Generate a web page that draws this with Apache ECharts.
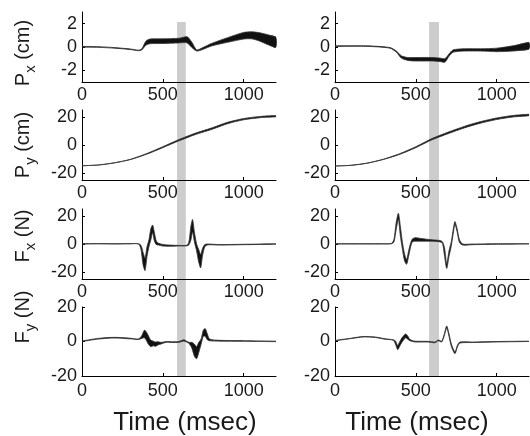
<!DOCTYPE html>
<html>
<head>
<meta charset="utf-8">
<script src="https://cdn.jsdelivr.net/npm/echarts@6/dist/echarts.min.js"></script>
<style>
  html, body { margin: 0; padding: 0; background: #fff; }
  #main { width: 530px; height: 436px; }
</style>
</head>
<body>
<div id="main"></div>
<script>
// tick labels
const xTicks = [0, 500, 1000];
const pxTicks = [-2, 0, 2];
const pyTicks = [-20, 0, 20];
const fxTicks = [-20, 0, 20];
const fyTicks = [-20, 0, 20];

// grey window (msec)
const bandLeft = [588, 642];
const bandRight = [582, 643];

// Px (cm), lower / upper edge of the traces
const pxLeftT  = [0, 100, 200, 300, 350, 370, 395, 420, 500, 600, 650, 680, 710, 750, 800, 900, 1000, 1050, 1100, 1150, 1200];
const pxLeftLo = [0, -0.03, -0.1, -0.22, -0.32, -0.25, 0.15, 0.28, 0.3, 0.35, 0.35, -0.05, -0.35, -0.2, 0.08, 0.4, 0.68, 0.7, 0.5, 0.2, -0.05];
const pxLeftHi = [0.05, 0.03, -0.05, -0.17, -0.27, -0.15, 0.5, 0.68, 0.7, 0.75, 0.88, 0.4, -0.25, -0.03, 0.3, 0.8, 1.25, 1.3, 1.22, 1.05, 0.85];

const pxRightT  = [0, 200, 340, 380, 410, 450, 500, 600, 650, 680, 705, 730, 800, 900, 1000, 1100, 1200];
const pxRightLo = [0.05, 0.05, -0.1, -0.45, -0.95, -1.15, -1.2, -1.2, -1.25, -1.3, -0.8, -0.45, -0.35, -0.35, -0.4, -0.35, -0.2];
const pxRightHi = [0.1, 0.1, -0.05, -0.35, -0.75, -0.9, -0.9, -0.9, -0.95, -1.0, -0.6, -0.25, -0.15, -0.15, -0.1, 0.1, 0.4];

// Py (cm)
const pyT = [0, 100, 200, 300, 400, 500, 600, 700, 800, 900, 1000, 1100, 1200];
const pyLeftLo  = [-14.8, -14.3, -12.8, -10.4, -6.6, -1.9, 3.0, 7.4, 11.0, 15.2, 18.0, 19.5, 20.1];
const pyLeftHi  = [-14.8, -14.3, -12.7, -10.2, -6.1, -1.2, 3.9, 8.4, 12.1, 16.2, 18.9, 20.4, 21.0];
const pyRightLo = [-15, -14.5, -13, -10.3, -6.7, -1.9, 3.7, 8.1, 12.2, 15.6, 18.2, 20.0, 20.9];
const pyRightHi = [-15, -14.5, -12.9, -10.1, -6.2, -1.2, 4.6, 9.2, 13.3, 16.7, 19.3, 21.1, 22.0];

// Fx (N)
const fxLeftT  = [0, 100, 200, 300, 350, 365, 378, 390, 402, 414, 426, 437, 448, 460, 475, 500, 550, 600, 650, 662, 674, 684, 696, 709, 722, 734, 746, 760, 780, 850, 1000, 1200];
const fxLeftLo = [0, 0.1, 0, 0.1, 0, -4, -15, -19, -9, -2, 3, 8, 2, -0.5, -0.8, -1.5, -1.6, -1.4, -1.3, -0.5, 3, 8.5, 1, -5, -13, -17, -8, -2, -0.6, -0.8, -0.5, -0.1];
const fxLeftHi = [0.2, 0.3, 0.2, 0.3, 0.2, -1, -6, -10, -2, 3, 11, 13.5, 8, 2, 0.5, -0.3, -0.8, -1, -0.8, 2, 13, 17.5, 8, 0, -4, -7.5, -3, -0.3, 0, -0.4, -0.2, 0.1];

const fxRightT  = [0, 100, 200, 300, 350, 365, 378, 392, 404, 416, 430, 443, 455, 466, 478, 495, 530, 600, 650, 665, 678, 691, 705, 720, 732, 742, 755, 770, 790, 850, 1000, 1200];
const fxRightLo = [0, 0, 0, 0, 0.2, 1.5, 10, 17.5, 6, -3, -12, -14.5, -9, -3, 1.5, 2, 2, 2, 1.5, 0.5, -9, -17.5, -9, -1, 8, 14, 9, 1, -0.8, -0.5, -0.2, 0];
const fxRightHi = [0.2, 0.2, 0.2, 0.2, 0.5, 3.5, 15, 22, 13, 2, -7, -11, -5, 0, 3.5, 4.5, 4, 3, 2.5, 1.5, -3, -14, -5, 2, 11, 16, 11, 3, 0, 0, 0.2, 0.2];

// Fy (N)
const fyLeftT  = [0, 100, 200, 300, 350, 370, 385, 395, 410, 425, 440, 455, 470, 490, 520, 560, 600, 630, 650, 665, 680, 695, 709, 722, 737, 750, 762, 775, 790, 850, 1000, 1200];
const fyLeftLo = [0, 1.4, 2.0, 1.5, 1.2, 1.8, 2.2, 1.2, -1.5, -3, -2.5, -2.8, -2, -1.4, -0.5, -0.6, -0.5, 0.3, -0.5, -1.5, -4, -8.5, -10, -6.5, -1.5, 3, 3, 1, 0.4, 0.2, 0.1, -0.1];
const fyLeftHi = [0.3, 1.8, 2.4, 1.9, 1.5, 3.5, 6.5, 6, 3.5, 0.8, 0.2, -0.3, -0.2, -0.5, 0, -0.1, 0, 1, 0, -0.5, -0.5, -1.5, -3, -0.5, 1.5, 6.5, 7.5, 4.5, 1.4, 0.7, 0.5, 0.2];

const fyRightT  = [0, 100, 174, 250, 309, 361, 375, 388, 400, 415, 437, 450, 464, 495, 575, 618, 640, 660, 675, 691, 705, 720, 742, 758, 773, 850, 1000, 1200];
const fyRightLo = [0.4, 1.7, 2.6, 2.3, 1.3, 0.7, -1.8, -4.8, -2.8, -0.3, 2.2, 1.3, 0.4, -0.3, -0.3, -0.7, 0.4, -0.3, 3, 7.8, 3, -3, -7, -3, -0.9, -0.6, -0.3, 0];
const fyRightHi = [0.6, 1.9, 2.9, 2.6, 1.6, 1.0, 0.2, -2.3, -0.2, 2.3, 4.4, 3.2, 1.2, 0.2, 0.1, -0.3, 0.9, 0.2, 4, 9, 4.5, -1.5, -6, -2, -0.3, -0.3, 0, 0.2];

const FONT = 'Liberation Sans';
const INK = '#1a1a1a';

const cols = [{ left: 82 }, { left: 335 }];
const rows = [
  { top: 12, height: 70, min: -3, max: 3, ticks: pxTicks, margin: 4 },
  { top: 110, height: 70, min: -25, max: 25, ticks: pyTicks, margin: 4 },
  { top: 209, height: 70, min: -25, max: 25, ticks: fxTicks, margin: 4 },
  { top: 307, height: 69, min: -20, max: 20, ticks: fyTicks, margin: 6 }
];

const panels = [
  [pxLeftT, pxLeftLo, pxLeftHi, 0, 0], [pxRightT, pxRightLo, pxRightHi, 0, 1],
  [pyT, pyLeftLo, pyLeftHi, 1, 0], [pyT, pyRightLo, pyRightHi, 1, 1],
  [fxLeftT, fxLeftLo, fxLeftHi, 2, 0], [fxRightT, fxRightLo, fxRightHi, 2, 1],
  [fyLeftT, fyLeftLo, fyLeftHi, 3, 0], [fyRightT, fyRightLo, fyRightHi, 3, 1]
];

const grid = [], xAxis = [], yAxis = [], series = [];
const plain = function (v) { return String(v); };

// band of traces: filled polygon between lower and upper edge, edges stroked
function traceBand(t, lo, hi) {
  return function (params, api) {
    const top = t.map(function (v, k) { return api.coord([v, hi[k]]); });
    const bot = t.map(function (v, k) { return api.coord([v, lo[k]]); });
    const poly = top.concat(bot.slice().reverse());
    return {
      type: 'group',
      children: [
        { type: 'polygon', shape: { points: poly, smooth: 0.25 }, style: { fill: '#111', stroke: null } },
        { type: 'polyline', shape: { points: top, smooth: 0.25 }, style: { fill: null, stroke: '#333', lineWidth: 0.8 } },
        { type: 'polyline', shape: { points: bot, smooth: 0.25 }, style: { fill: null, stroke: '#333', lineWidth: 0.8 } }
      ]
    };
  };
}

panels.forEach(function (p, i) {
  const t = p[0], lo = p[1], hi = p[2], r = rows[p[3]], c = cols[p[4]];
  grid.push({ left: c.left, top: r.top, width: 194, height: r.height, outerBoundsMode: 'none' });
  xAxis.push({
    gridIndex: i, type: 'value', min: 0, max: 1200,
    axisLine: { show: true, onZero: false, lineStyle: { color: '#000', width: 1 } },
    axisTick: { show: true, inside: true, length: 3, customValues: xTicks, lineStyle: { color: '#000' } },
    axisLabel: { customValues: xTicks, formatter: plain, fontSize: 18, fontFamily: FONT, color: INK, margin: r.margin },
    splitLine: { show: false }
  });
  yAxis.push({
    gridIndex: i, type: 'value', min: r.min, max: r.max,
    axisLine: { show: true, onZero: false, lineStyle: { color: '#000', width: 1 } },
    axisTick: { show: true, inside: true, length: 3, customValues: r.ticks, lineStyle: { color: '#000' } },
    axisLabel: { customValues: r.ticks, formatter: plain, fontSize: 18, fontFamily: FONT, color: INK, margin: 5 },
    splitLine: { show: false }
  });
  series.push({
    type: 'custom', xAxisIndex: i, yAxisIndex: i, z: 3, silent: true,
    data: [[t[0], lo[0]]],
    renderItem: traceBand(t, lo, hi)
  });
});

// grey window spanning all four rows of each column
[bandLeft, bandRight].forEach(function (b, j) {
  const gi = grid.length;
  grid.push({ left: cols[j].left, top: 22, width: 194, height: 354, outerBoundsMode: 'none' });
  xAxis.push({ gridIndex: gi, type: 'value', min: 0, max: 1200, show: false });
  yAxis.push({ gridIndex: gi, type: 'value', min: 0, max: 1, show: false });
  series.push({
    type: 'custom', xAxisIndex: gi, yAxisIndex: gi, z: -1, silent: true,
    data: [[b[0], b[1]]],
    renderItem: function (params, api) {
      const p0 = api.coord([api.value(0), 1]);
      const p1 = api.coord([api.value(1), 0]);
      return { type: 'rect', shape: { x: p0[0], y: p0[1], width: p1[0] - p0[0], height: p1[1] - p0[1] },
               style: { fill: '#cdcdcd' } };
    }
  });
});

const rich = {
  m: { fontSize: 20, fontFamily: FONT, fill: INK, lineHeight: 30 },
  s: { fontSize: 15, fontFamily: FONT, fill: INK, lineHeight: 14, verticalAlign: 'bottom' }
};
function yLabel(txt, y) {
  return { type: 'text', x: 23, y: y, rotation: Math.PI / 2, silent: true,
           style: { text: txt, rich: rich, align: 'center', verticalAlign: 'middle' } };
}
function tLabel(x) {
  return { type: 'text', x: x, y: 423, silent: true,
           style: { text: 'Time (msec)', fontSize: 26, fontFamily: FONT, fill: INK, align: 'center', verticalAlign: 'middle' } };
}

const myChart = echarts.init(document.getElementById('main'));
myChart.setOption({
  backgroundColor: '#fff',
  animation: false,
  grid: grid, xAxis: xAxis, yAxis: yAxis, series: series,
  graphic: [
    yLabel('{m|P}{s|x}{m| (cm)}', 53),
    yLabel('{m|P}{s|y}{m| (cm)}', 145),
    yLabel('{m|F}{s|x}{m| (N)}', 236),
    yLabel('{m|F}{s|y}{m| (N)}', 317),
    tLabel(185), tLabel(417)
  ]
});
</script>
</body>
</html>
